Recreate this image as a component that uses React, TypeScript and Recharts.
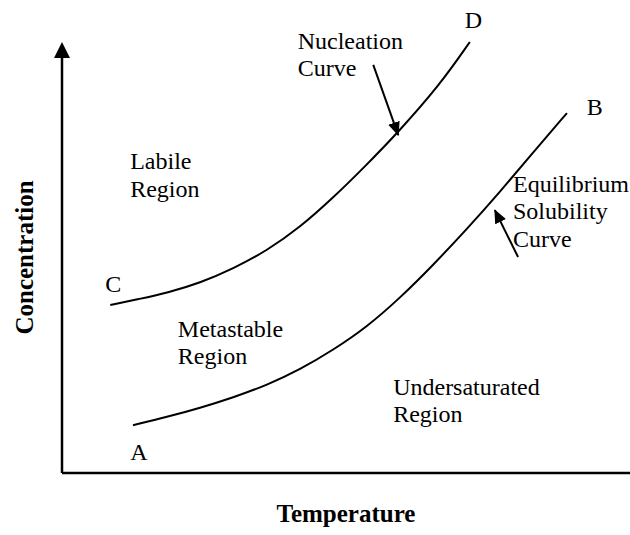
import { LineChart, Line, XAxis, YAxis, ReferenceLine, ReferenceDot } from 'recharts';

// curve points, in 0-100 temperature / concentration units
const solubilityX = [12.5, 18.5, 24.3, 30.1, 36.1, 41.9, 47.7, 53.7, 59.5, 65.3, 71.3, 77.1, 82.9, 88.9];
const solubilityY = [11.1, 13.0, 15.1, 17.5, 20.4, 24.0, 28.5, 33.9, 40.6, 48.2, 56.6, 65.2, 74.3, 83.5];
const nucleationX = [8.5, 13.7, 18.5, 24.3, 30.1, 36.1, 41.9, 47.7, 53.7, 59.0, 66.5, 71.8];
const nucleationY = [39.0, 40.4, 41.8, 44.1, 47.4, 51.6, 57.0, 63.8, 71.6, 78.8, 90.0, 100];

// text annotations: [lines, x, y]
const noteText = [
  ['D'], ['B'], ['C'], ['A'],
  ['Labile', 'Region'],
  ['Metastable', 'Region'],
  ['Undersaturated', 'Region'],
  ['Nucleation', 'Curve'],
  ['Equilibrium', 'Solubility', 'Curve'],
];
const noteX = [70.9, 92.4, 7.6, 12.0, 12.0, 20.4, 58.3, 41.5, 79.4];
const noteY = [103.2, 83.1, 42.0, 3.0, 70.5, 31.6, 18.1, 98.4, 65.2];

// pointer arrows: from -> to
const pointerFrom = [{ x: 54.8, y: 94.7 }, { x: 80.3, y: 50.1 }];
const pointerTo = [{ x: 59.2, y: 78.4 }, { x: 76.2, y: 61.0 }];

const solubility = solubilityX.map((x, i) => ({ x, y: solubilityY[i] }));
const nucleation = nucleationX.map((x, i) => ({ x, y: nucleationY[i] }));

const serif = '"Liberation Serif", "Times New Roman", serif';

const noteShape = (lines: string[]) => (p: any) => (
  <text x={p.cx} y={p.cy} style={{ fontFamily: serif }} fontSize={24} fill="#000">
    {lines.map((t, i) => (
      <tspan key={i} x={p.cx} dy={i === 0 ? 0 : 27.5}>
        {t}
      </tspan>
    ))}
  </text>
);

export default function App() {
  return (
    <div style={{ position: 'absolute', left: 0, top: 0, background: '#fff' }}>
      <LineChart width={630} height={535} margin={{ top: 42, right: 0, left: 0, bottom: 0 }}>
        <defs>
          <marker id="axisHead" markerWidth="16" markerHeight="16" refX="0" refY="8" orient="auto" markerUnits="userSpaceOnUse">
            <path d="M0,0 L16,8 L0,16 z" fill="#000" />
          </marker>
          <marker id="pointHead" markerWidth="14" markerHeight="12" refX="13" refY="6" orient="auto" markerUnits="userSpaceOnUse">
            <path d="M0,0 L14,6 L0,12 z" fill="#000" />
          </marker>
        </defs>
        <XAxis
          type="number"
          dataKey="x"
          domain={[0, 100]}
          height={62}
          tick={false}
          tickLine={false}
          axisLine={{ stroke: '#000', strokeWidth: 2.5 }}
          label={{
            content: (props: any) => {
              const vb = props.viewBox;
              return (
                <text x={vb.x + vb.width / 2} y={vb.y + vb.height - 13} textAnchor="middle" style={{ fontFamily: serif }} fontSize={25} fontWeight="bold" fill="#000">
                  Temperature
                </text>
              );
            },
          }}
        />
        <YAxis
          type="number"
          domain={[0, 100]}
          width={62}
          tick={false}
          tickLine={false}
          axisLine={false}
          label={{
            content: (props: any) => {
              const vb = props.viewBox;
              const cx = 33;
              const cy = vb.y + vb.height / 2;
              return (
                <text x={cx} y={cy} transform={`rotate(-90 ${cx} ${cy})`} textAnchor="middle" style={{ fontFamily: serif }} fontSize={25} fontWeight="bold" fill="#000">
                  Concentration
                </text>
              );
            },
          }}
        />
        <ReferenceLine
          segment={[{ x: 0, y: 0 }, { x: 0, y: 96.3 }]}
          ifOverflow="visible"
          shape={(p: any) => <line x1={p.x1} y1={p.y1} x2={p.x2} y2={p.y2} stroke="#000" strokeWidth={2.5} markerEnd="url(#axisHead)" />}
        />
        <Line data={nucleation} dataKey="y" type="basis" stroke="#000" strokeWidth={2} dot={false} isAnimationActive={false} />
        <Line data={solubility} dataKey="y" type="basis" stroke="#000" strokeWidth={2} dot={false} isAnimationActive={false} />
        {pointerFrom.map((f, i) => (
          <ReferenceLine
            key={'p' + i}
            segment={[f, pointerTo[i]]}
            ifOverflow="visible"
            shape={(p: any) => <line x1={p.x1} y1={p.y1} x2={p.x2} y2={p.y2} stroke="#000" strokeWidth={2} markerEnd="url(#pointHead)" />}
          />
        ))}
        {noteText.map((lines, i) => (
          <ReferenceDot key={'n' + i} x={noteX[i]} y={noteY[i]} r={0} ifOverflow="visible" shape={noteShape(lines)} />
        ))}
      </LineChart>
    </div>
  );
}
